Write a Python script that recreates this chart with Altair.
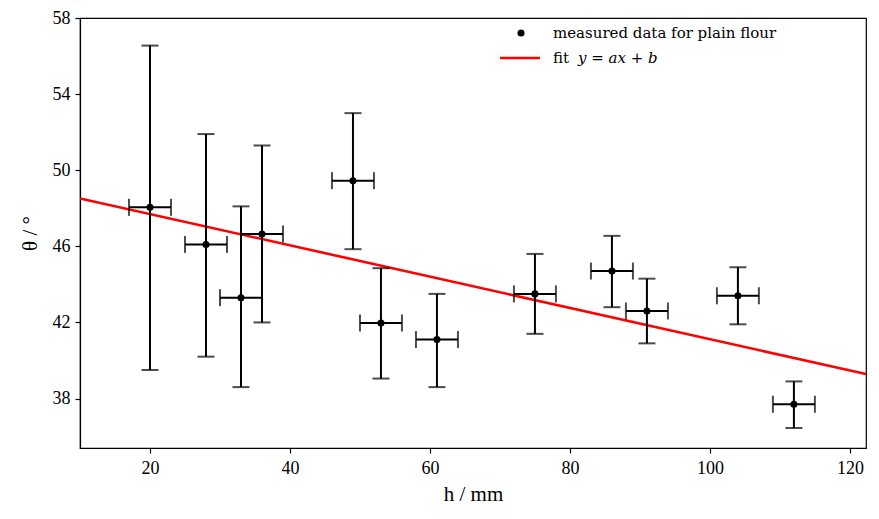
import altair as alt
import pandas as pd

h = [20, 28, 33, 36, 49, 53, 61, 75, 86, 91, 104, 112]
theta = [48.05, 46.1, 43.3, 46.65, 49.45, 41.97, 41.1, 43.5, 44.7, 42.6, 43.4, 37.7]
theta_hi = [56.55, 51.9, 48.1, 51.3, 53.0, 44.85, 43.5, 45.6, 46.55, 44.3, 44.9, 38.9]
theta_lo = [39.5, 40.2, 38.6, 42.0, 45.85, 39.05, 38.6, 41.4, 42.8, 40.9, 41.9, 36.45]
h_err = [3] * 12

fit_x = [10, 122.3]
fit_a = -0.0822
fit_b = 49.34
fit_y = [fit_a * v + fit_b for v in fit_x]

df = pd.DataFrame({
    "h": h, "theta": theta, "hi": theta_hi, "lo": theta_lo,
    "hl": [a - e for a, e in zip(h, h_err)], "hr": [a + e for a, e in zip(h, h_err)],
})
fit_df = pd.DataFrame({"h": fit_x, "theta": fit_y})

FONT = "Liberation Serif"
LFONT = "DejaVu Serif"
xs = alt.Scale(domain=[10, 122.3], nice=False, zero=False)
ys = alt.Scale(domain=[35.4, 58], nice=False, zero=False)

x_axis = alt.Axis(title="h  /  mm", values=[20, 40, 60, 80, 100, 120], grid=False,
                  labelFont=FONT, labelFontSize=18, titleFont=FONT, titleFontSize=21,
                  titleFontWeight="normal", labelColor="black", titleColor="black",
                  tickColor="black", domainColor="black", tickSize=5, labelPadding=6,
                  titlePadding=6, domainWidth=1.2, tickWidth=1.2)
y_axis = alt.Axis(title="θ  /  °", values=[38, 42, 46, 50, 54, 58], grid=False,
                  labelFont=FONT, labelFontSize=18, titleFont=FONT, titleFontSize=21,
                  titleFontWeight="normal", labelColor="black", titleColor="black",
                  tickColor="black", domainColor="black", tickSize=5, labelPadding=5,
                  titlePadding=12, domainWidth=1.2, tickWidth=1.2)

base = alt.Chart(df)

vbars = base.mark_rule(color="black", strokeWidth=2).encode(
    x=alt.X("h:Q", scale=xs, axis=x_axis),
    y=alt.Y("lo:Q", scale=ys, axis=y_axis),
    y2="hi:Q",
)
hbars = base.mark_rule(color="black", strokeWidth=2).encode(
    x=alt.X("hl:Q", scale=xs), x2="hr:Q", y=alt.Y("theta:Q", scale=ys)
)
cap_top = base.mark_tick(color="black", thickness=2, size=17, orient="horizontal").encode(
    x=alt.X("h:Q", scale=xs), y=alt.Y("hi:Q", scale=ys))
cap_bot = base.mark_tick(color="black", thickness=2, size=17, orient="horizontal").encode(
    x=alt.X("h:Q", scale=xs), y=alt.Y("lo:Q", scale=ys))
cap_l = base.mark_tick(color="black", thickness=2, size=17, orient="vertical").encode(
    x=alt.X("hl:Q", scale=xs), y=alt.Y("theta:Q", scale=ys))
cap_r = base.mark_tick(color="black", thickness=2, size=17, orient="vertical").encode(
    x=alt.X("hr:Q", scale=xs), y=alt.Y("theta:Q", scale=ys))
pts = base.mark_point(filled=True, color="black", size=50, opacity=1).encode(
    x=alt.X("h:Q", scale=xs), y=alt.Y("theta:Q", scale=ys))

fit = alt.Chart(fit_df).mark_line(color="red", strokeWidth=2.6, clip=True).encode(
    x=alt.X("h:Q", scale=xs), y=alt.Y("theta:Q", scale=ys))

# legend (decoration)
one = pd.DataFrame({"a": [0]})
leg_pt = alt.Chart(one).mark_point(filled=True, color="black", size=50, opacity=1).encode(
    x=alt.value(441), y=alt.value(15))
leg_line = alt.Chart(one).mark_rule(color="red", strokeWidth=2.6).encode(
    x=alt.value(420), x2=alt.value(460), y=alt.value(40))
leg_t1 = alt.Chart(pd.DataFrame({"t": ["measured data for plain flour"]})).mark_text(
    align="left", baseline="middle", font=LFONT, fontSize=15, color="black").encode(
    x=alt.value(473), y=alt.value(15), text="t:N")
leg_t2 = alt.Chart(pd.DataFrame({"t": ["fit"]})).mark_text(
    align="left", baseline="middle", font=LFONT, fontSize=15, color="black").encode(
    x=alt.value(473), y=alt.value(40), text="t:N")
leg_t3 = alt.Chart(pd.DataFrame({"t": ["y = ax + b"]})).mark_text(
    align="left", baseline="middle", font=LFONT, fontSize=15, fontStyle="italic", color="black").encode(
    x=alt.value(498), y=alt.value(40), text="t:N")

chart = alt.layer(fit, vbars, hbars, cap_top, cap_bot, cap_l, cap_r, pts,
                  leg_pt, leg_line, leg_t1, leg_t2, leg_t3).properties(
    width=786, height=430,
    background="white",
    autosize=alt.AutoSizeParams(type="none"),
    padding={"left": 72, "top": 10, "right": 5, "bottom": 63},
).configure_view(stroke="black", strokeWidth=1.2)

chart.save("out.html", embed_options={"renderer": "svg", "actions": False})
